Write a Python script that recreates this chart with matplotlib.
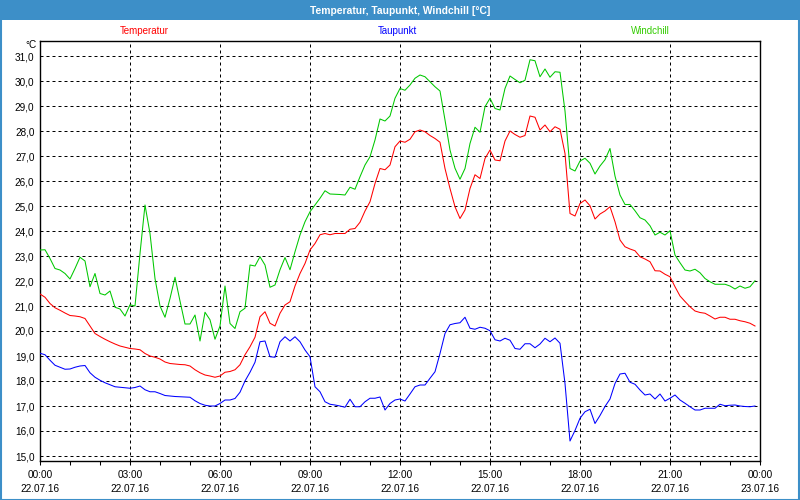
import numpy as np
import matplotlib
matplotlib.use("Agg")
import matplotlib.pyplot as plt
from matplotlib.patches import Rectangle

# ---- data (10-minute samples, 22.07.16 00:00 .. 23:50) ----
temperatur = [
    21.48, 21.35, 21.10, 20.93, 20.83, 20.72, 20.62, 20.60, 20.57, 20.50,
    20.20, 19.90, 19.78, 19.67, 19.57, 19.48, 19.40, 19.35, 19.30, 19.28,
    19.25, 19.10, 19.00, 18.95, 18.88, 18.76, 18.70, 18.68, 18.66, 18.65,
    18.60, 18.45, 18.33, 18.24, 18.20, 18.15, 18.20, 18.35, 18.38, 18.45,
    18.65, 19.05, 19.37, 19.75, 20.57, 20.77, 20.31, 20.20, 20.71, 21.04,
    21.17, 21.80, 22.30, 22.70, 23.24, 23.50, 23.85, 23.90, 23.85, 23.90,
    23.90, 23.90, 24.07, 24.10, 24.35, 24.80, 25.17, 25.90, 26.50, 26.45,
    26.64, 27.37, 27.60, 27.55, 27.67, 27.97, 28.04, 27.97, 27.82, 27.70,
    27.55, 26.50, 25.70, 24.97, 24.50, 24.84, 25.70, 26.25, 26.10, 26.90,
    27.24, 26.84, 26.81, 27.60, 28.00, 27.86, 27.75, 27.82, 28.60, 28.55,
    28.04, 28.24, 27.97, 28.17, 28.07, 27.10, 24.70, 24.60, 25.10, 25.24,
    25.01, 24.48, 24.68, 24.80, 24.97, 24.37, 23.64, 23.37, 23.28, 23.21,
    22.97, 22.88, 22.77, 22.41, 22.40, 22.27, 22.17, 21.77, 21.40, 21.18,
    20.97, 20.80, 20.74, 20.71, 20.60, 20.48, 20.55, 20.55, 20.47, 20.47,
    20.41, 20.37, 20.31, 20.20,
]
taupunkt = [
    19.11, 19.05, 18.83, 18.63, 18.55, 18.47, 18.48, 18.55, 18.60, 18.62,
    18.33, 18.15, 18.03, 17.93, 17.85, 17.77, 17.75, 17.73, 17.71, 17.74,
    17.80, 17.65, 17.57, 17.57, 17.50, 17.42, 17.40, 17.38, 17.37, 17.36,
    17.35, 17.21, 17.10, 17.03, 17.00, 17.00, 17.10, 17.24, 17.24, 17.30,
    17.55, 18.00, 18.35, 18.75, 19.57, 19.60, 18.97, 18.95, 19.57, 19.77,
    19.60, 19.77, 19.57, 19.24, 18.97, 17.77, 17.57, 17.17, 17.07, 17.04,
    17.00, 16.95, 17.27, 16.97, 16.97, 17.17, 17.31, 17.31, 17.36, 16.84,
    17.10, 17.24, 17.28, 17.20, 17.48, 17.77, 17.84, 17.84, 18.11, 18.37,
    19.10, 19.90, 20.25, 20.30, 20.33, 20.55, 20.11, 20.07, 20.15, 20.11,
    20.01, 19.65, 19.60, 19.71, 19.63, 19.30, 19.27, 19.49, 19.49, 19.33,
    19.48, 19.71, 19.57, 19.72, 19.51, 17.90, 15.60, 16.02, 16.51, 16.77,
    16.87, 16.30, 16.62, 16.98, 17.28, 17.90, 18.28, 18.31, 17.95, 17.87,
    17.64, 17.44, 17.48, 17.28, 17.48, 17.20, 17.31, 17.44, 17.24, 17.11,
    16.97, 16.84, 16.84, 16.91, 16.91, 16.91, 17.07, 17.01, 17.03, 17.04,
    17.00, 16.98, 16.97, 17.00,
]
windchill = [
    23.24, 23.25, 22.90, 22.50, 22.44, 22.30, 22.08, 22.50, 22.95, 22.80,
    21.77, 22.30, 21.50, 21.44, 21.60, 20.95, 20.88, 20.60, 21.05, 21.00,
    23.10, 25.04, 23.90, 22.10, 21.00, 20.55, 21.30, 22.15, 21.20, 20.28,
    20.28, 20.64, 19.60, 20.75, 20.45, 19.67, 20.20, 21.80, 20.30, 20.10,
    20.77, 20.91, 22.64, 22.60, 22.97, 22.64, 21.75, 21.84, 22.45, 22.94,
    22.45, 23.17, 23.84, 24.37, 24.77, 25.04, 25.31, 25.61, 25.48, 25.47,
    25.46, 25.44, 25.75, 25.67, 26.17, 26.64, 26.97, 27.64, 28.48, 28.40,
    28.60, 29.31, 29.70, 29.63, 29.84, 30.11, 30.24, 30.17, 29.97, 29.77,
    29.60, 28.44, 27.24, 26.51, 26.07, 26.50, 27.50, 28.15, 27.95, 28.97,
    29.31, 28.90, 28.84, 29.70, 30.20, 30.06, 29.93, 30.03, 30.85, 30.81,
    30.17, 30.48, 30.15, 30.37, 30.35, 28.80, 26.50, 26.40, 26.80, 26.91,
    26.71, 26.28, 26.60, 26.85, 27.30, 26.20, 25.44, 25.06, 25.06, 24.81,
    24.53, 24.44, 24.21, 23.84, 23.95, 23.84, 24.01, 23.04, 22.73, 22.44,
    22.40, 22.47, 22.33, 22.10, 21.97, 21.87, 21.87, 21.87, 21.80, 21.68,
    21.80, 21.71, 21.77, 22.01,
]
sample_step_h = 1.0 / 6.0  # 10 minutes
hours = np.arange(len(temperatur)) * sample_step_h

series_names = ["Temperatur", "Taupunkt", "Windchill"]
series_colors = ["#ff0000", "#0000ff", "#00c800"]
label_colors = ["#ff0000", "#0000ff", "#33cc00"]

time_labels = ["00:00", "03:00", "06:00", "09:00", "12:00", "15:00", "18:00", "21:00", "00:00"]
date_labels = ["22.07.16"] * 8 + ["23.07.16"]
tick_hours = [0, 3, 6, 9, 12, 15, 18, 21, 24]
y_ticks = list(range(15, 32))

title = "Temperatur, Taupunkt, Windchill [°C]"
unit = "°C"

# ---- figure ----
plt.rcParams['font.family'] = ['Liberation Sans', 'DejaVu Sans']
W, H = 800, 500
fig = plt.figure(figsize=(W / 100, H / 100), dpi=100)
fig.patch.set_facecolor("white")

# title bar
fig.patches.append(Rectangle((0, 1 - 20 / H), 1, 20 / H, transform=fig.transFigure,
                             facecolor="#3d8fc8", edgecolor="none", zorder=0))
fig.patches.append(Rectangle((0.5 / W, 0.5 / H), 1 - 1.5 / W, 1 - 1.5 / H, transform=fig.transFigure,
                             facecolor="none", edgecolor="#3d8fc8", linewidth=1.5, zorder=5))
fig.text(0.5, 1 - 10.5 / H, title, ha="center", va="center", color="white",
         fontsize=7.4, fontweight="bold")

# legend labels
for name, col, xc in zip(series_names, label_colors, [144, 397, 650]):
    fig.text(xc / W, 1 - 31 / H, name, ha="center", va="center", color=col, fontsize=7)

ax = fig.add_axes([40 / W, 1 - 460.5 / H, 720 / W, (460.5 - 40.5) / H])
ax.set_facecolor("white")

for vals, col in zip([temperatur, taupunkt, windchill], series_colors):
    ax.plot(hours, vals, color=col, linewidth=0.75, zorder=3)

ax.set_xlim(0, 24)
ax.set_ylim(15 - 4.5 / 25, 31 + 15.5 / 25)

ax.set_yticks(y_ticks)
ax.set_yticklabels([f"{v:.1f}".replace(".", ",") for v in y_ticks])
ax.set_xticks(tick_hours)
ax.set_xticklabels([f"{t}\n{d}" for t, d in zip(time_labels, date_labels)], linespacing=1.6)
ax.set_xticks(range(0, 25), minor=True)

ax.tick_params(axis="y", length=0, pad=4, labelsize=7.2, colors="#000000")
ax.tick_params(axis="x", which="both", direction="out", length=3, width=0.75,
               pad=3.5, labelsize=7.2)

for s in ax.spines.values():
    s.set_linewidth(1.0)
    s.set_color("black")

ax.grid(True, which="major", color="black", linewidth=0.72, linestyle=(0, (3, 3)))

fig.text(37 / W, 1 - 45 / H, unit, ha="right", va="center", fontsize=7.2)

fig.savefig("out.png", dpi=100)
